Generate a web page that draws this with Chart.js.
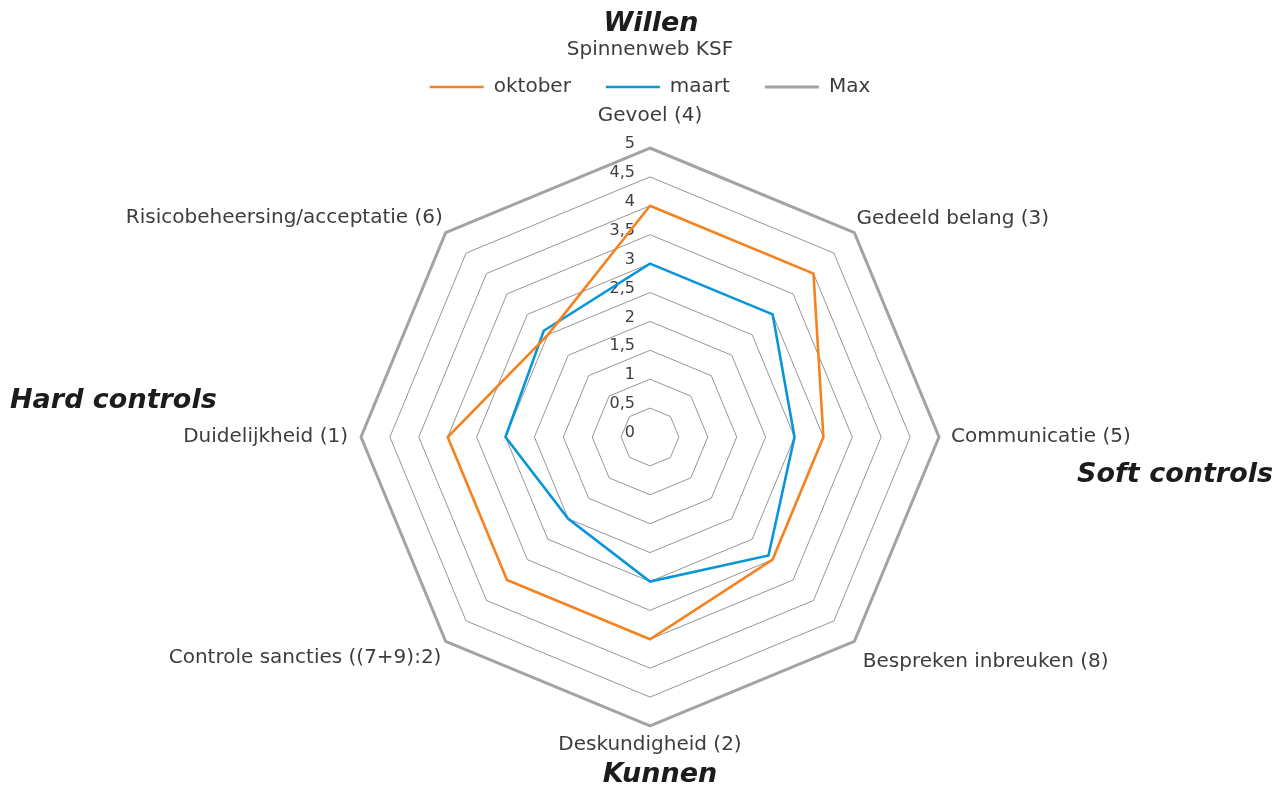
<!DOCTYPE html>
<html>
<head>
<meta charset="utf-8">
<script src="https://cdn.jsdelivr.net/npm/chart.js@4"></script>
<style>
  html, body { margin: 0; padding: 0; background: #fff; }
  #wrap { width: 1276px; height: 787px; position: relative; }
</style>
</head>
<body>
<div id="wrap"><canvas id="radar"></canvas></div>
<script>
// chart data
const categories = [
  "Gevoel (4)",
  "Gedeeld belang (3)",
  "Communicatie (5)",
  "Bespreken inbreuken (8)",
  "Deskundigheid (2)",
  "Controle sancties ((7+9):2)",
  "Duidelijkheid (1)",
  "Risicobeheersing/acceptatie (6)"
];
const oktober = [4, 4, 3, 3, 3.5, 3.5, 3.5, 2.5];
const maart = [3, 3, 2.5, 2.9, 2.5, 2, 2.5, 2.6];
const maxValues = [5, 5, 5, 5, 5, 5, 5, 5];
const tickValues = [0, 0.5, 1, 1.5, 2, 2.5, 3, 3.5, 4, 4.5, 5];

const textColor = "#3d3d3d";
const fontFamily = "'DejaVu Sans', sans-serif";

// padding of each axis label, same order as categories
const labelPadding = [20, 3, 12, 12, 7, 6, 13, 4];

// big italic words around the web
const sideLabels = [
  { text: "Willen", x: 651, y: 24, align: "center" },
  { text: "Kunnen", x: 660, y: 775, align: "center" },
  { text: "Hard controls", x: 10, y: 401, align: "left" },
  { text: "Soft controls", x: 1273, y: 475, align: "right" }
];

const fmt = (v) => String(v).replace(".", ",");

// tick labels left of the vertical axis, like excel does
const tickLabelPlugin = {
  id: "tickLabels",
  beforeDatasetsDraw(chart) {
    const scale = chart.scales.r;
    const ctx = chart.ctx;
    ctx.save();
    ctx.font = "16px " + fontFamily;
    ctx.fillStyle = textColor;
    ctx.textAlign = "right";
    ctx.textBaseline = "middle";
    scale.ticks.forEach((t) => {
      const y = scale.yCenter - scale.getDistanceFromCenterForValue(t.value) - 4;
      ctx.fillText(fmt(t.value), scale.xCenter - 15, y);
    });
    ctx.restore();
  }
};

const sideLabelPlugin = {
  id: "sideLabels",
  afterDraw(chart) {
    const ctx = chart.ctx;
    ctx.save();
    ctx.font = "italic bold 27px " + fontFamily;
    ctx.fillStyle = "#1c1c1c";
    ctx.textBaseline = "middle";
    sideLabels.forEach((l) => {
      ctx.textAlign = l.align;
      ctx.fillText(l.text, l.x, l.y);
    });
    ctx.restore();
  }
};

new Chart(document.getElementById("radar"), {
  type: "radar",
  data: {
    labels: categories,
    datasets: [
      {
        label: "oktober",
        data: oktober,
        borderColor: "#F5821F",
        backgroundColor: "#F5821F",
        borderWidth: 2.6,
        fill: false,
        pointRadius: 0
      },
      {
        label: "maart",
        data: maart,
        borderColor: "#0996D8",
        backgroundColor: "#0996D8",
        borderWidth: 2.6,
        fill: false,
        pointRadius: 0
      },
      {
        label: "Max",
        data: maxValues,
        borderColor: "#A3A3A3",
        backgroundColor: "#A3A3A3",
        borderWidth: 3,
        fill: false,
        pointRadius: 0
      }
    ]
  },
  options: {
    responsive: true,
    maintainAspectRatio: false,
    animation: false,
    layout: { padding: { left: 24, top: 0, right: 0, bottom: 23 } },
    plugins: {
      title: {
        display: true,
        text: "Spinnenweb KSF",
        color: textColor,
        font: { family: fontFamily, size: 20, weight: "normal" },
        padding: { top: 38, bottom: -20 }
      },
      legend: {
        position: "top",
        maxHeight: 56,
        labels: {
          usePointStyle: true,
          pointStyle: "line",
          pointStyleWidth: 54,
          padding: 35,
          color: textColor,
          font: { family: fontFamily, size: 20 }
        }
      },
      tooltip: { enabled: false }
    },
    scales: {
      r: {
        min: 0,
        max: 5,
        ticks: {
          stepSize: 0.5,
          display: false,
          callback: (v) => fmt(v)
        },
        afterBuildTicks(scale) {
          scale.ticks = tickValues.map((v) => ({ value: v }));
        },
        grid: { color: "#959595", lineWidth: 1 },
        angleLines: { display: false },
        pointLabels: {
          color: textColor,
          font: { family: fontFamily, size: 20 },
          padding: (ctx) => labelPadding[ctx.index]
        }
      }
    }
  },
  plugins: [tickLabelPlugin, sideLabelPlugin]
});
</script>
</body>
</html>
